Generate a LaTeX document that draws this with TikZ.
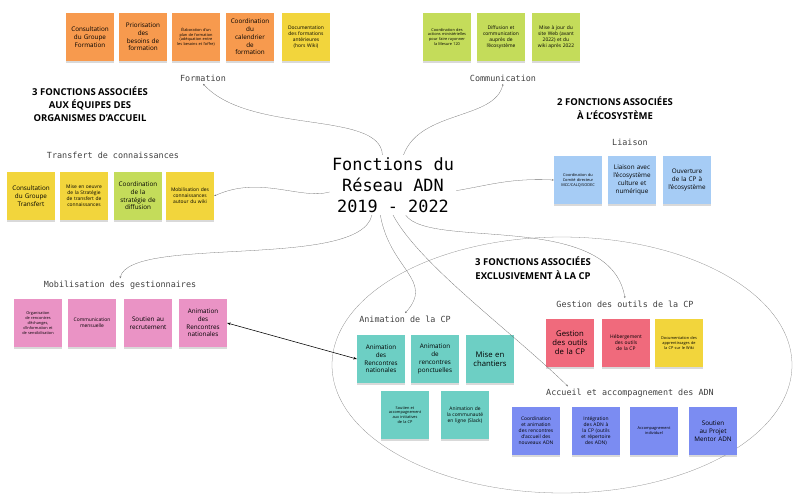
\documentclass[tikz,border=0pt]{standalone}
\usepackage{fontspec}
\setmainfont{Open Sans}
\setmonofont{DejaVu Sans Mono}
\usetikzlibrary{arrows.meta, shadows, shapes.geometric}
\lefthyphenmin=64
\definecolor{orangenote}{HTML}{F79A4E}
\definecolor{yellownote}{HTML}{F2D53C}
\definecolor{greennote}{HTML}{C4DC5A}
\definecolor{bluenote}{HTML}{A6CCF5}
\definecolor{pinknote}{HTML}{EA93C5}
\definecolor{tealnote}{HTML}{6DCFC4}
\definecolor{rednote}{HTML}{F06A7C}
\definecolor{violetnote}{HTML}{7B8CF2}
\tikzset{
  note/.style={rectangle, minimum width=2.4cm, minimum height=2.4cm, text width=1.95cm, align=center, inner sep=1pt, font=\fontsize{9}{11}\selectfont, drop shadow={opacity=0.3, shadow xshift=0pt, shadow yshift=-3pt}},
  small/.style={font=\fontsize{7}{8.5}\selectfont},
  tiny/.style={font=\fontsize{5.5}{7}\selectfont},
  group/.style={font=\ttfamily\fontsize{12}{14}\selectfont, text=black!75},
  heading/.style={font=\bfseries\fontsize{13.5}{19}\selectfont, align=center},
  link/.style={draw=black!55, thin, -{Stealth[length=3pt]}}
}
\begin{document}
\begin{tikzpicture}[x=0.05cm, y=-0.05cm]
\useasboundingbox (0,0) rectangle (800,500);

% Title
\node (title) [font=\ttfamily\fontsize{24}{30}\selectfont, align=center] at (393,185) {Fonctions du\\Réseau ADN\\2019 - 2022};

% Headings
\node (h1) [heading] at (90,104) {3 FONCTIONS ASSOCIÉES\\AUX ÉQUIPES DES\\ORGANISMES D'ACCUEIL};
\node (h2) [heading] at (615,108) {2 FONCTIONS ASSOCIÉES\\À L'ÉCOSYSTÈME};
\node (h3) [heading] at (533,268) {3 FONCTIONS ASSOCIÉES\\EXCLUSIVEMENT À LA CP};

% CP ellipse
\node (cp) [ellipse, draw=black!45, minimum width=23cm, minimum height=12.8cm] at (562,365) {};

% Formation
\node (f1) [note, fill=orangenote] at (90,37) {Consultation du Groupe Formation};
\node (f2) [note, fill=orangenote] at (143,37) {Priorisation des besoins de formation};
\node (f3) [note, fill=orangenote, tiny] at (196,37) {Élaboration d'un plan de formation (adéquation entre les besoins et l'offre)};
\node (f4) [note, fill=orangenote] at (250,37) {Coordination du calendrier de formation};
\node (f5) [note, fill=yellownote, small] at (306,37) {Documentation des formations antérieures (hors Wiki)};
\node (formation) [group] at (203,78) {Formation};

% Communication
\node (c1) [note, fill=greennote, tiny] at (447,37) {Coordination des actions ministérielles pour faire rayonner la Mesure 120};
\node (c2) [note, fill=greennote, small] at (501,37) {Diffusion et communication auprès de l'écosystème};
\node (c3) [note, fill=greennote, small] at (556,37) {Mise à jour du site Web (avant 2022) et du wiki après 2022};
\node (communication) [group] at (503,78) {Communication};

% Transfert de connaissances
\node (transfert) [group] at (113,155) {Transfert de connaissances};
\node (t1) [note, fill=yellownote] at (31,196) {Consultation du Groupe Transfert};
\node (t2) [note, fill=yellownote, small] at (84,196) {Mise en oeuvre de la Stratégie de transfert de connaissances};
\node (t3) [note, fill=greennote] at (138,196) {Coordination de la stratégie de diffusion};
\node (t4) [note, fill=yellownote, small] at (190,196) {Mobilisation des connaissances autour du wiki};

% Liaison
\node (liaison) [group] at (630,142) {Liaison};
\node (l1) [note, fill=bluenote, tiny] at (578,180) {Coordination du Comité directeur MCC/CALQ/SODEC};
\node (l2) [note, fill=bluenote] at (632,180) {Liaison avec l'écosystème culture et numérique};
\node (l3) [note, fill=bluenote] at (687,180) {Ouverture de la CP à l'écosystème};

% Mobilisation des gestionnaires
\node (mobilisation) [group] at (120,285) {Mobilisation des gestionnaires};
\node (m1) [note, fill=pinknote, tiny] at (38,323) {Organisation de rencontres d'échanges, d'information et de sensibilisation};
\node (m2) [note, fill=pinknote, small] at (92,323) {Communication mensuelle};
\node (m3) [note, fill=pinknote] at (148,323) {Soutien au recrutement};
\node (m4) [note, fill=pinknote] at (203,323) {Animation des Rencontres nationales};

% Animation de la CP
\node (animation) [group] at (405,319) {Animation de la CP};
\node (a1) [note, fill=tealnote] at (381,359) {Animation des Rencontres nationales};
\node (a2) [note, fill=tealnote] at (435,359) {Animation de rencontres ponctuelles};
\node (a3) [note, fill=tealnote, font=\fontsize{11}{13}\selectfont] at (490,359) {Mise en chantiers};
\node (a4) [note, fill=tealnote, tiny] at (405,415) {Soutien et accompagnement aux initiatives de la CP};
\node (a5) [note, fill=tealnote, small] at (465,415) {Animation de la communauté en ligne (Slack)};

% Gestion des outils de la CP
\node (gestion) [group] at (625,304) {Gestion des outils de la CP};
\node (g1) [note, fill=rednote, font=\fontsize{11}{13}\selectfont] at (570,343) {Gestion des outils de la CP};
\node (g2) [note, fill=rednote, small] at (626,343) {Hébergement des outils de la CP};
\node (g3) [note, fill=yellownote, tiny] at (679,343) {Documentation des apprentissages de la CP sur le Wiki};

% Accueil et accompagnement des ADN
\node (accueil) [group] at (630,393) {Accueil et accompagnement des ADN};
\node (d1) [note, fill=violetnote, small] at (536,431) {Coordination et animation des rencontres d'accueil des nouveaux ADN};
\node (d2) [note, fill=violetnote, small] at (596,431) {Intégration des ADN à la CP (outils et répertoire des ADN)};
\node (d3) [note, fill=violetnote, tiny] at (654,431) {Accompagnement individuel};
\node (d4) [note, fill=violetnote] at (713,431) {Soutien au Projet Mentor ADN};

% Connectors
\draw [link] ([xshift=-15pt]title.north) .. controls (380,110) and (250,135) .. (formation.south);
\draw [link] ([xshift=15pt]title.north) .. controls (420,110) and (495,120) .. (communication.south);
\draw [link] ([yshift=-8pt]title.east) .. controls (490,185) and (510,178) .. (l1.west);
\draw [link] ([yshift=-10pt]title.west) .. controls (300,200) and (260,175) .. (t4.east);
\draw [link] ([xshift=-30pt]title.south) .. controls (360,270) and (130,235) .. (mobilisation.north);
\draw [link] ([xshift=-18pt]title.south) .. controls (390,270) and (435,280) .. (animation.north);
\draw [link] ([xshift=0pt]title.south) .. controls (420,265) and (510,330) .. ([xshift=-3.1cm]accueil.north);
\draw [link] ([xshift=18pt]title.south) .. controls (430,250) and (610,210) .. (gestion.north);
\draw [thick, {Stealth[length=5pt]}-{Stealth[length=5pt]}] (m4.east) -- (a1.west);

\end{tikzpicture}
\end{document}
